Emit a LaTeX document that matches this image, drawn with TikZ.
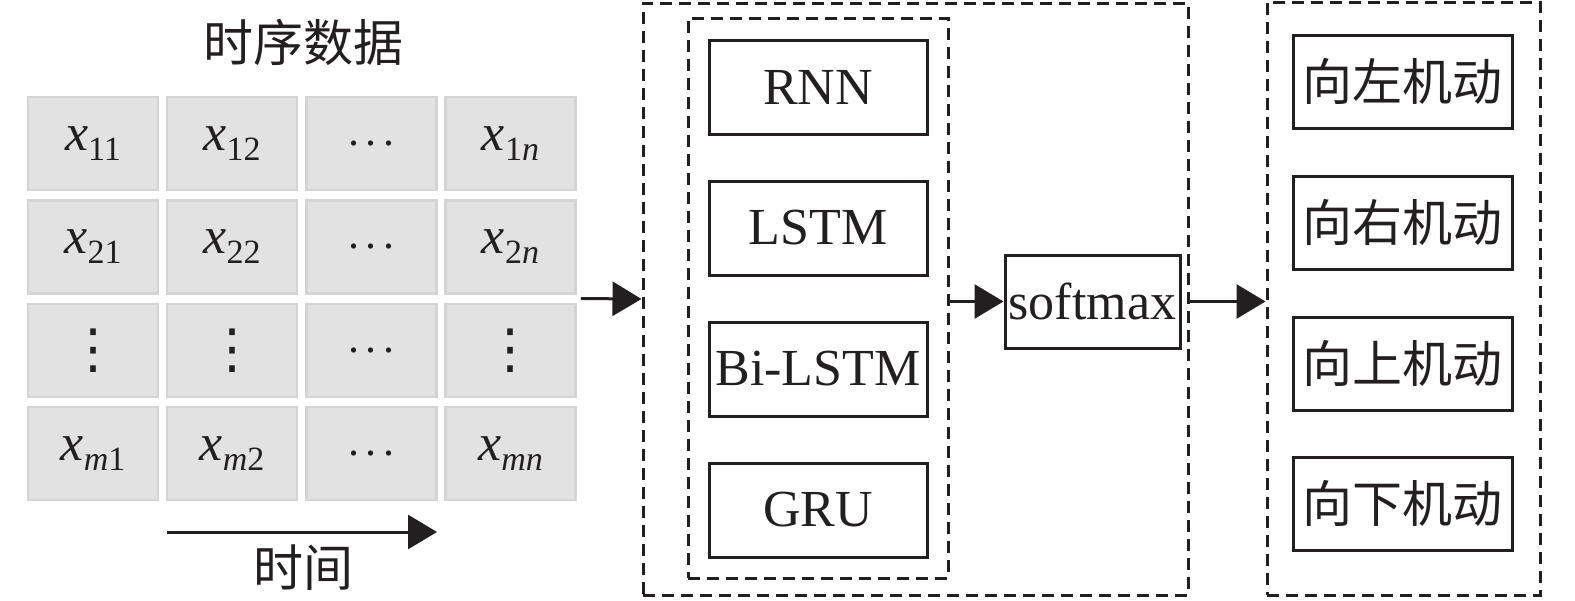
\documentclass[tikz,border=0pt]{standalone}
\usepackage{fontspec}
\setmainfont{Liberation Serif}
\newfontfamily\cjk{Noto Sans CJK SC}
\newfontfamily\symf{DejaVu Sans}
\usetikzlibrary{arrows.meta,fit}
\definecolor{ink}{RGB}{35,31,32}
\definecolor{cellfill}{RGB}{226,226,226}
\definecolor{celledge}{RGB}{212,212,212}
\newcommand{\xs}[1]{\textit{x}\raisebox{-10pt}{\fontsize{34}{34}\selectfont #1}}
\newcommand{\hd}{{\fontsize{44}{44}\selectfont .\kern7pt.\kern7pt.}}
\newcommand{\vd}{{\symf\fontsize{54}{54}\selectfont ⋮}}
\tikzset{
  cell/.style={draw=celledge,fill=cellfill,line width=2.5pt,minimum width=130pt,minimum height=93pt,inner sep=0pt,text=ink,font=\fontsize{52}{60}\selectfont},
  model/.style={draw=ink,line width=3pt,minimum width=218pt,minimum height=94pt,inner sep=0pt,text=ink,font=\fontsize{52}{60}\selectfont},
  dbox/.style={draw=ink,line width=3pt,dash pattern=on 12pt off 7pt,inner sep=0pt},
  arr/.style={draw=ink,line width=3pt,-{Triangle[length=29pt,width=34pt]}},
  cjklabel/.style={text=ink,inner sep=0pt,font=\cjk\fontsize{50}{60}\selectfont}
}
\begin{document}
\begin{tikzpicture}[x=1pt,y=-1pt]
\useasboundingbox (0,0) rectangle (1575,600);
% time series input
\node[cjklabel] (title) at (303,42) {时序数据};
\node[cell] (c11) at (93,143.5) {\xs{11}};
\node[cell] (c12) at (232,143.5) {\xs{12}};
\node[cell] (c13) at (371.5,143.5) {\hd};
\node[cell] (c14) at (510.5,143.5) {\xs{1\textit{n}}};
\node[cell] (c21) at (93,247) {\xs{21}};
\node[cell] (c22) at (232,247) {\xs{22}};
\node[cell] (c23) at (371.5,247) {\hd};
\node[cell] (c24) at (510.5,247) {\xs{2\textit{n}}};
\node[cell] (c31) at (93,350.5) {\vd};
\node[cell] (c32) at (232,350.5) {\vd};
\node[cell] (c33) at (371.5,350.5) {\hd};
\node[cell] (c34) at (510.5,350.5) {\vd};
\node[cell] (c41) at (93,453.5) {\xs{\textit{m}1}};
\node[cell] (c42) at (232,453.5) {\xs{\textit{m}2}};
\node[cell] (c43) at (371.5,453.5) {\hd};
\node[cell] (c44) at (510.5,453.5) {\xs{\textit{mn}}};
\node[fit=(c11)(c44),inner sep=0pt] (grid) {};
\coordinate (t0) at (167,532);
\coordinate (t1) at (437,532);
\draw[arr] (t0) -- (t1);
\node[cjklabel] (tlabel) at (303,568) {时间};
% classifier
\node[dbox,minimum width=545pt,minimum height=592pt] (outer) at (915.5,299) {};
\node[dbox,minimum width=260pt,minimum height=560pt] (inner) at (818,298) {};
\node[model] (rnn) at (818,87) {RNN};
\node[model] (lstm) at (818,228) {LSTM};
\node[model] (bilstm) at (818,369) {Bi-LSTM};
\node[model] (gru) at (818,510) {GRU};
\node[model,minimum width=175pt,minimum height=93pt] (soft) at (1092.5,301.5) {softmax};
% maneuvers
\node[dbox,minimum width=273pt,minimum height=593pt] (res) at (1403.5,298.5) {};
\node[model,minimum width=219pt,minimum height=93pt,font=\cjk\fontsize{50}{60}\selectfont] (ml) at (1402.5,81.5) {向左机动};
\node[model,minimum width=219pt,minimum height=93pt,font=\cjk\fontsize{50}{60}\selectfont] (mr) at (1402.5,222.5) {向右机动};
\node[model,minimum width=219pt,minimum height=93pt,font=\cjk\fontsize{50}{60}\selectfont] (mu) at (1402.5,363.5) {向上机动};
\node[model,minimum width=219pt,minimum height=93pt,font=\cjk\fontsize{50}{60}\selectfont] (md) at (1402.5,503.5) {向下机动};
\draw[arr,shorten <=4pt] (grid.east) -- (outer.west);
\draw[arr] (inner.east |- soft.west) -- (soft.west);
\draw[arr] (outer.east |- soft.east) -- (res.west |- soft.east);
\end{tikzpicture}
\end{document}
